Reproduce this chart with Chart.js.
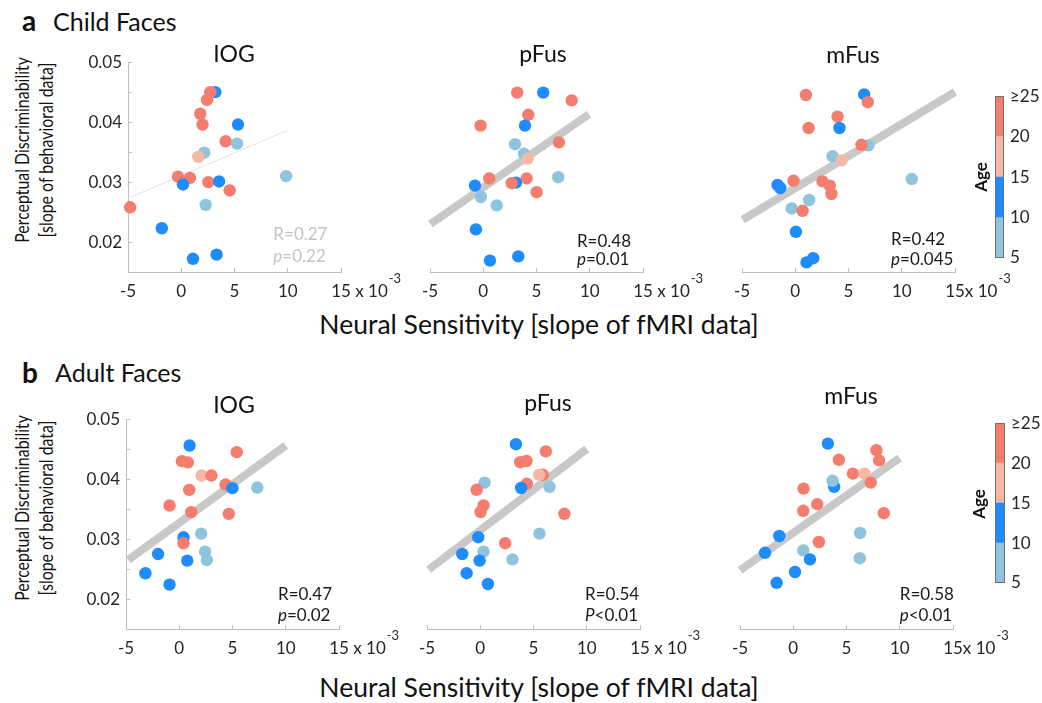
<!DOCTYPE html>
<html>
<head>
<meta charset="utf-8">
<script src="https://cdn.jsdelivr.net/npm/chart.js@4.4.1/dist/chart.umd.min.js"></script>
<style>
  body { margin: 0; background: #fff; }
  #fig { position: relative; width: 1042px; height: 703px; overflow: hidden; font-family: Lato, "Open Sans", sans-serif; color: #111; }
  #fig canvas { position: absolute; }
  .txt { position: absolute; line-height: 1; white-space: nowrap; }
  .ylab { position: absolute; white-space: nowrap; text-align: center; font-size: 18.5px; line-height: 23.5px; transform: translate(-50%, -50%) rotate(-90deg) scaleX(0.86); }
  .age { position: absolute; font-weight: bold; font-size: 17px; line-height: 1; transform: translate(-50%, -50%) rotate(-90deg); }
</style>
</head>
<body>
<div id="fig"></div>
<script>
// ---- data: neural sensitivity (x, ×10^-3) vs perceptual discriminability (y) ----
// age group per subject: 0 = 5-10, 1 = 10-15, 2 = 15-20, 3 = 20+
const childIogX = [3.20, 2.73, 2.42, 1.79, 2.00, 5.33, 4.17, 5.24, 2.16, 1.60, -0.31, 0.82, 0.16, 2.54, 3.55, 4.55, 9.85, 2.29, -4.80, -1.82, 1.10, 3.32];
const childIogY = [0.0450, 0.0450, 0.0437, 0.0414, 0.0396, 0.0396, 0.0368, 0.0364, 0.0349, 0.0342, 0.0309, 0.0307, 0.0296, 0.0300, 0.0301, 0.0286, 0.0310, 0.0262, 0.0258, 0.0223, 0.0172, 0.0179];
const childIogAge = [1, 3, 3, 3, 3, 1, 3, 0, 0, 2, 3, 3, 1, 3, 1, 3, 0, 0, 3, 1, 1, 1];

const childPfusX = [3.19, 5.63, 8.30, 4.23, -0.25, 3.92, 7.11, 2.98, 3.82, 4.17, 7.04, 0.56, 4.07, 3.07, 2.67, -0.78, 5.01, -0.22, 1.26, -0.69, 0.63, 3.29];
const childPfusY = [0.0449, 0.0449, 0.0436, 0.0412, 0.0394, 0.0394, 0.0366, 0.0363, 0.0347, 0.0339, 0.0308, 0.0306, 0.0306, 0.0299, 0.0298, 0.0294, 0.0283, 0.0275, 0.0261, 0.0221, 0.0169, 0.0176];
const childPfusAge = [3, 1, 3, 3, 3, 1, 3, 0, 0, 2, 0, 3, 3, 1, 3, 1, 3, 0, 0, 1, 1, 1];

const childMfusX = [1.00, 6.47, 6.81, 3.97, 1.25, 4.15, 6.87, 6.22, 3.50, 4.34, 10.94, -0.16, 2.56, 3.25, -1.66, -1.41, 3.40, 1.31, -0.34, 0.69, 0.06, 1.06, 1.69];
const childMfusY = [0.0445, 0.0446, 0.0433, 0.0409, 0.0390, 0.0390, 0.0361, 0.0362, 0.0343, 0.0336, 0.0305, 0.0302, 0.0301, 0.0294, 0.0295, 0.0290, 0.0280, 0.0270, 0.0256, 0.0252, 0.0217, 0.0166, 0.0173];
const childMfusAge = [3, 1, 3, 3, 3, 1, 0, 3, 0, 2, 0, 3, 3, 3, 1, 1, 3, 0, 0, 3, 1, 1, 1];

const adultIogX = [0.97, 5.40, 0.25, 0.81, 2.09, 3.02, 4.34, 4.99, 7.33, 0.94, -0.91, 1.12, 4.65, 2.06, 0.40, 0.40, -1.99, 2.43, 2.59, 0.75, -3.18, -0.91];
const adultIogY = [0.0456, 0.0445, 0.0430, 0.0428, 0.0406, 0.0406, 0.0391, 0.0385, 0.0386, 0.0382, 0.0356, 0.0345, 0.0342, 0.0309, 0.0303, 0.0293, 0.0275, 0.0279, 0.0265, 0.0264, 0.0243, 0.0224];
const adultIogAge = [1, 3, 3, 3, 2, 3, 3, 1, 0, 3, 3, 3, 3, 0, 1, 3, 1, 0, 0, 1, 1, 1];

const adultPfusX = [3.35, 6.16, 3.75, 4.34, 5.88, 5.53, 0.41, 4.38, 3.84, 6.50, -0.34, 0.31, 0.03, 7.90, 5.56, -0.19, 2.34, -1.69, 0.31, 3.03, -0.06, -1.28, 0.72];
const adultPfusY = [0.0458, 0.0446, 0.0428, 0.0430, 0.0407, 0.0407, 0.0394, 0.0392, 0.0385, 0.0387, 0.0382, 0.0356, 0.0345, 0.0342, 0.0309, 0.0303, 0.0293, 0.0275, 0.0279, 0.0266, 0.0264, 0.0243, 0.0225];
const adultPfusAge = [1, 3, 3, 3, 3, 2, 0, 3, 1, 0, 3, 3, 3, 3, 0, 1, 3, 1, 0, 0, 1, 1, 1];

const adultMfusX = [3.25, 7.81, 4.28, 8.06, 5.60, 6.69, 3.84, 7.28, 3.69, 0.97, 2.25, 0.94, 8.50, 6.28, -1.31, 2.41, 0.94, -2.65, 1.57, 6.25, 0.16, -1.56];
const adultMfusY = [0.0459, 0.0448, 0.0432, 0.0431, 0.0409, 0.0409, 0.0387, 0.0394, 0.0397, 0.0384, 0.0358, 0.0347, 0.0343, 0.0310, 0.0305, 0.0295, 0.0281, 0.0277, 0.0266, 0.0268, 0.0245, 0.0227];
const adultMfusAge = [1, 3, 3, 3, 3, 2, 1, 3, 0, 3, 3, 3, 3, 0, 1, 3, 0, 1, 1, 0, 1, 1];

// regression line end points
const childIogFitX = [-5, 9.94],   childIogFitY = [0.0273, 0.0386];
const childPfusFitX = [-4.96, 9.92], childPfusFitY = [0.0230, 0.0413];
const childMfusFitX = [-4.94, 15],  childMfusFitY = [0.0237, 0.0450];
const adultIogFitX = [-4.8, 10],    adultIogFitY = [0.0265, 0.0456];
const adultPfusFitX = [-4.84, 10],  adultPfusFitY = [0.0249, 0.0450];
const adultMfusFitX = [-5, 9.99],   adultMfusFitY = [0.0248, 0.0435];

// correlation stats
const statR = ['R=0.27', 'R=0.48', 'R=0.42', 'R=0.47', 'R=0.54', 'R=0.58'];
const statPSym = ['p', 'p', 'p', 'p', 'P', 'p'];
const statPVal = ['=0.22', '=0.01', '=0.045', '=0.02', '<0.01', '<0.01'];

// axes and colour bar
const xTicks = [-5, 0, 5, 10, 15];
const yTicks = [0.02, 0.03, 0.04, 0.05];
const ageEdges = [5, 10, 15, 20, 25];
const ageTickLabels = ['5', '10', '15', '20', '≥25'];

// ---- styles ----
const ageColors = ['#8EC4DE', '#1E8CFF', '#F5B8A4', '#F57D6E'];
const axisGray = '#BFBFBF';
const tickColor = '#262626';
const FONT = 'Lato, "Open Sans", sans-serif';

Chart.defaults.font.family = FONT;
Chart.defaults.color = tickColor;
Chart.defaults.animation = false;
Chart.defaults.events = [];
Chart.defaults.plugins.legend.display = false;
Chart.defaults.plugins.tooltip.enabled = false;

const fig = document.getElementById('fig');

// panel geometry: canvas margins around a fixed plot area
const PAD_L = 65, PAD_R = 60, PAD_T = 20, PAD_B = 35;
const AREA_W = 213, AREA_H = 210;
const TICK_LEN = -4, X_PAD = 13, Y_PAD = 10, TICK_SIZE = 17;

const panels = [
  { left: 128, top: 62, x: childIogX, y: childIogY, age: childIogAge, fx: childIogFitX, fy: childIogFitY, k: 0, yAxis: true, faint: true, statAt: [8.65, 0.0204, 0.0167], expo: ' x 10' },
  { left: 430, top: 62, x: childPfusX, y: childPfusY, age: childPfusAge, fx: childPfusFitX, fy: childPfusFitY, k: 1, statAt: [8.8, 0.0192, 0.0162], expo: ' x 10' },
  { left: 742, top: 62, x: childMfusX, y: childMfusY, age: childMfusAge, fx: childMfusFitX, fy: childMfusFitY, k: 2, statAt: [9.0, 0.0195, 0.0162], expo: 'x 10' },
  { left: 126, top: 419, x: adultIogX, y: adultIogY, age: adultIogAge, fx: adultIogFitX, fy: adultIogFitY, k: 3, yAxis: true, statAt: [9.27, 0.0198, 0.0163], expo: ' x 10' },
  { left: 427, top: 419, x: adultPfusX, y: adultPfusY, age: adultPfusAge, fx: adultPfusFitX, fy: adultPfusFitY, k: 4, statAt: [9.84, 0.0198, 0.0163], expo: ' x 10' },
  { left: 740, top: 419, x: adultMfusX, y: adultMfusY, age: adultMfusAge, fx: adultMfusFitX, fy: adultMfusFitY, k: 5, statAt: [10.0, 0.0198, 0.0163], expo: 'x 10' }
];

// correlation text and the x-axis exponent
const panelText = {
  id: 'panelText',
  afterDatasetsDraw(chart, args, o) {
    const { ctx, scales: { x, y } } = chart;
    ctx.save();
    ctx.fillStyle = o.color;
    ctx.textAlign = 'left';
    ctx.textBaseline = 'alphabetic';
    const sx = x.getPixelForValue(o.at[0]);
    ctx.font = '17px ' + FONT;
    ctx.fillText(o.r, sx, y.getPixelForValue(o.at[1]));
    const py = y.getPixelForValue(o.at[2]);
    ctx.font = 'italic 17px ' + FONT;
    ctx.fillText(o.pSym, sx, py);
    const w = ctx.measureText(o.pSym).width;
    ctx.font = '17px ' + FONT;
    ctx.fillText(o.pVal, sx + w, py);

    // "x 10^-3" after the last tick label
    ctx.fillStyle = tickColor;
    ctx.font = TICK_SIZE + 'px ' + FONT;
    ctx.textBaseline = 'middle';
    const mid = x.top + TICK_LEN + X_PAD + TICK_SIZE * 1.2 / 2;
    const last = xTicks[xTicks.length - 1];
    const ex = x.getPixelForValue(last) + ctx.measureText(String(last)).width / 2;
    ctx.fillText(o.expo, ex, mid);
    const ew = ctx.measureText(o.expo).width;
    ctx.font = '13px ' + FONT;
    ctx.fillText('-3', ex + ew + 1, mid - 12);
    ctx.restore();
  }
};

function drawPanel(p) {
  const cv = document.createElement('canvas');
  cv.width = PAD_L + AREA_W + PAD_R;
  cv.height = PAD_T + AREA_H + PAD_B;
  cv.style.left = (p.left - PAD_L) + 'px';
  cv.style.top = (p.top - PAD_T) + 'px';
  fig.appendChild(cv);

  const pts = p.x.map((v, i) => ({ x: v, y: p.y[i] }));
  const fit = p.fx.map((v, i) => ({ x: v, y: p.fy[i] }));

  new Chart(cv, {
    type: 'scatter',
    data: {
      datasets: [
        {
          data: pts,
          pointRadius: 6.2,
          pointBorderWidth: 0,
          pointBackgroundColor: p.age.map(a => ageColors[a]),
          clip: false,
          order: 1
        },
        {
          type: 'line',
          data: fit,
          borderColor: p.faint ? '#E2E2E2' : '#C8C8C8',
          borderWidth: p.faint ? 1 : 8,
          borderCapStyle: 'butt',
          pointRadius: 0,
          clip: false,
          order: 2
        }
      ]
    },
    options: {
      responsive: false,
      layout: { padding: { left: 0, top: PAD_T, right: PAD_R, bottom: 0 } },
      scales: {
        x: {
          type: 'linear',
          min: xTicks[0],
          max: xTicks[xTicks.length - 1],
          afterBuildTicks: s => { s.ticks = xTicks.map(v => ({ value: v })); },
          ticks: { padding: X_PAD, font: { size: TICK_SIZE }, color: tickColor, maxRotation: 0 },
          grid: { drawOnChartArea: false, drawTicks: true, tickLength: TICK_LEN, color: axisGray },
          border: { color: axisGray, width: 1 },
          afterFit: s => { s.height = PAD_B; }
        },
        y: {
          type: 'linear',
          min: 0.015,
          max: 0.05,
          ticks: {
            display: !!p.yAxis,
            stepSize: 0.005,
            padding: Y_PAD,
            font: { size: TICK_SIZE },
            color: tickColor,
            callback: v => yTicks.some(t => Math.abs(t - v) < 1e-6) ? v.toFixed(2) : ''
          },
          grid: { display: !!p.yAxis, drawOnChartArea: false, drawTicks: true, tickLength: TICK_LEN, color: axisGray },
          border: { display: !!p.yAxis, color: axisGray, width: 1 },
          afterFit: s => { s.width = PAD_L; }
        }
      },
      plugins: {
        panelText: {
          at: p.statAt,
          r: statR[p.k],
          pSym: statPSym[p.k],
          pVal: statPVal[p.k],
          color: p.faint ? '#C4C4C4' : '#1a1a1a',
          expo: p.expo
        }
      }
    },
    plugins: [panelText]
  });
}

panels.forEach(drawPanel);

// ---- age colour bars ----
const barOutline = {
  id: 'barOutline',
  afterDatasetsDraw(chart) {
    const { ctx, chartArea: a } = chart;
    ctx.save();
    ctx.strokeStyle = '#707070';
    ctx.lineWidth = 1;
    ctx.strokeRect(Math.round(a.left) + 0.5, Math.round(a.top) + 0.5, Math.round(a.right - a.left) - 1, Math.round(a.bottom - a.top) - 1);
    ctx.restore();
  }
};

function drawColorBar(left, top, barW, barH) {
  const W = 82, H = 200, padL = 35, padT = 13;
  const cv = document.createElement('canvas');
  cv.width = W; cv.height = H;
  cv.style.left = (left - padL) + 'px';
  cv.style.top = (top - padT) + 'px';
  fig.appendChild(cv);

  new Chart(cv, {
    type: 'bar',
    data: {
      labels: ['Age'],
      datasets: ageColors.map((c, i) => ({
        data: [[ageEdges[i], ageEdges[i + 1]]],
        backgroundColor: c,
        borderWidth: 0,
        barPercentage: 1,
        categoryPercentage: 1
      }))
    },
    options: {
      responsive: false,
      layout: { padding: { left: padL, top: padT, right: 0, bottom: H - padT - barH } },
      scales: {
        x: { display: false, stacked: true },
        y: {
          position: 'right',
          min: ageEdges[0],
          max: ageEdges[ageEdges.length - 1],
          ticks: {
            stepSize: 5,
            padding: 6,
            font: { size: TICK_SIZE },
            color: tickColor,
            callback: v => ageTickLabels[ageEdges.indexOf(v)]
          },
          grid: { display: false, drawTicks: false },
          border: { display: false },
          afterFit: s => { s.width = W - padL - barW; }
        }
      }
    },
    plugins: [barOutline]
  });
}

drawColorBar(995, 93, 9, 165);
drawColorBar(995, 420, 10, 163);

// ---- text ----
function addText(str, x, baseline, size, opts = {}) {
  const el = document.createElement('div');
  el.className = 'txt';
  el.textContent = str;
  el.style.fontSize = size + 'px';
  el.style.top = (baseline - 0.887 * size) + 'px';
  el.style.left = x + 'px';
  if (opts.bold) el.style.fontWeight = 'bold';
  if (opts.center) el.style.transform = 'translateX(-50%)';
  fig.appendChild(el);
}

addText('a', 22, 31, 28, { bold: true });
addText('Child Faces', 53, 31, 25);
addText('b', 22, 383, 28, { bold: true });
addText('Adult Faces', 55, 382, 25);

addText('IOG', 234, 62, 23, { center: true });
addText('pFus', 543, 62, 23, { center: true });
addText('mFus', 853, 63, 23, { center: true });
addText('IOG', 234, 413, 23, { center: true });
addText('pFus', 548, 411, 23, { center: true });
addText('mFus', 851, 404, 23, { center: true });

addText('Neural Sensitivity [slope of fMRI data]', 539, 335, 26.5, { center: true });
addText('Neural Sensitivity [slope of fMRI data]', 539, 698, 26.5, { center: true });

function addYLabel(cx, cy) {
  const el = document.createElement('div');
  el.className = 'ylab';
  el.innerHTML = 'Perceptual Discriminability<br>[slope of behavioral data]';
  el.style.left = cx + 'px';
  el.style.top = cy + 'px';
  fig.appendChild(el);
}
addYLabel(34, 150);
addYLabel(34, 508);

function addAge(cx, cy) {
  const el = document.createElement('div');
  el.className = 'age';
  el.textContent = 'Age';
  el.style.left = cx + 'px';
  el.style.top = cy + 'px';
  fig.appendChild(el);
}
addAge(980, 177);
addAge(978, 504);
</script>
</body>
</html>
